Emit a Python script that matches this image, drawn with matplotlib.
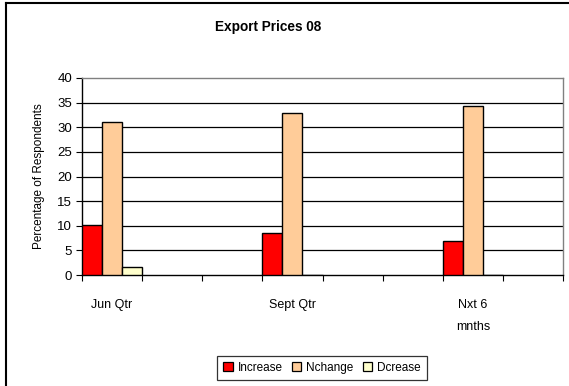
import matplotlib
matplotlib.use("Agg")
import matplotlib.pyplot as plt
from matplotlib import font_manager
from matplotlib.lines import Line2D
from matplotlib.patches import Patch

# Data
categories = ["Jun Qtr", "Sept Qtr", "Nxt 6\nmnths"]
series_names = ["Increase", "Nchange", "Dcrease"]
increase = [10.2, 8.5, 6.9]
nchange = [31.0, 32.8, 34.4]
dcrease = [1.7, 0.0, 0.0]
y_ticks = [0, 5, 10, 15, 20, 25, 30, 35, 40]

colors = ["#ff0000", "#ffcc99", "#ffffcc"]

names = {f.name for f in font_manager.fontManager.ttflist}
family = "Liberation Sans Narrow" if "Liberation Sans Narrow" in names else "Liberation Sans"
plt.rcParams["font.family"] = [family, "DejaVu Sans"]

W, H = 569, 386
fig = plt.figure(figsize=(W / 100, H / 100), dpi=100)
fig.patch.set_facecolor("white")

# plot area in pixel coordinates
x0, x1, ytop, ybot = 82, 563, 78, 275
ax = fig.add_axes([x0 / W, (H - ybot) / H, (x1 - x0) / W, (ybot - ytop) / H])

slots_per_cat = 3
n_slots = 8
bar_w = 1 / 3
series = [increase, nchange, dcrease]
for k, (vals, col, name) in enumerate(zip(series, colors, series_names)):
    xs = [i * slots_per_cat + k * bar_w for i in range(len(categories))]
    ax.bar(xs, vals, width=bar_w, align="edge", color=col, edgecolor="black",
           linewidth=1.0, label=name, zorder=3)

ax.set_xlim(0, n_slots)
ax.set_ylim(0, 40)
ax.set_yticks(y_ticks)
ax.tick_params(axis="y", labelsize=9.5, length=4, width=0.8, pad=3, color="black")
for y in y_ticks[1:-1]:
    ax.axhline(y, color="black", linewidth=0.9, zorder=1)

# category tick marks between slots, labels centred in each category
ax.set_xticks(range(n_slots + 1))
ax.set_xticklabels([])
ax.tick_params(axis="x", which="major", length=4, width=0.8, direction="out")
ax.set_xticks([i * slots_per_cat + 0.5 for i in range(len(categories))], minor=True)
ax.set_xticklabels(categories, minor=True, fontsize=9, linespacing=2.1)
ax.tick_params(axis="x", which="minor", length=0, pad=17)
for lbl in ax.get_xticklabels(minor=True):
    lbl.set_verticalalignment("top")

for s in ["top", "right"]:
    ax.spines[s].set_color("#808080")
    ax.spines[s].set_linewidth(1.0)
for s in ["left", "bottom"]:
    ax.spines[s].set_color("black")
    ax.spines[s].set_linewidth(1.0)

ax.set_ylabel("Percentage of Respondents", fontsize=8.5, labelpad=9)

fig.text(268 / W, 1 - 27 / H, "Export Prices 08", ha="center", va="center",
         fontsize=9.8, fontweight="bold")

handles = [Patch(facecolor=c, edgecolor="black", linewidth=0.9) for c in colors]
leg = fig.legend(handles, series_names, loc="center", ncol=3,
                 bbox_to_anchor=(322 / W, 1 - 368 / H), fontsize=8.5,
                 frameon=True, fancybox=False, edgecolor="black",
                 handlelength=0.8, handleheight=0.8, handletextpad=0.4,
                 columnspacing=0.8, borderpad=0.5)
leg.get_frame().set_linewidth(0.9)

# outer chart border (left and top edges)
fig.add_artist(Line2D([6 / W, 6 / W], [0, 1 - 3 / H], transform=fig.transFigure,
                      color="black", linewidth=1.5))
fig.add_artist(Line2D([6 / W, 1], [1 - 3 / H, 1 - 3 / H], transform=fig.transFigure,
                      color="black", linewidth=1.5))

fig.savefig("out.png", dpi=100)
